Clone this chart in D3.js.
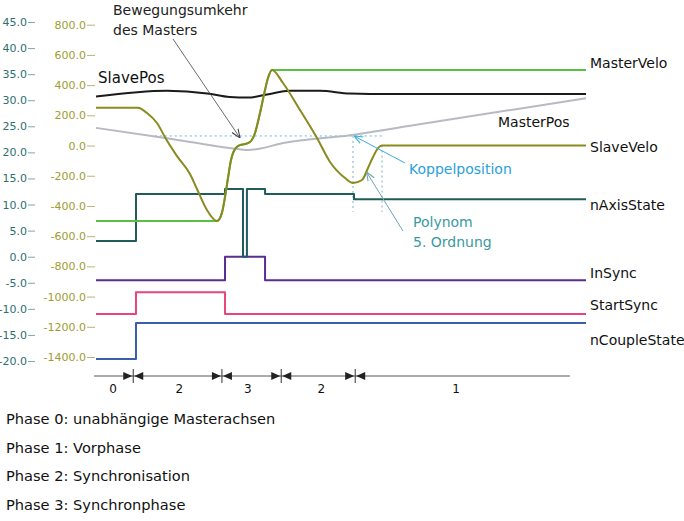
<!DOCTYPE html>
<html><head><meta charset="utf-8">
<script src="https://cdn.jsdelivr.net/npm/d3@7"></script>
<style>
body{margin:0;background:#fff}
svg{display:block}
text{font-family:"DejaVu Sans",sans-serif}
</style>
</head><body>
<svg id="c" width="684" height="521"></svg>
<script>
// ---------------- data ----------------
const leftTicks = [45,40,35,30,25,20,15,10,5,0,-5,-10,-15,-20];
const veloTicks = [800,600,400,200,0,-200,-400,-600,-800,-1000,-1200,-1400];

// [time, value]  (velocities on the olive axis, others on the teal axis)
const masterVelo = [[0,-500],[24.69,-500],[25.71,-444],[26.33,-341],[26.94,-215],[27.55,-96],[28.37,-23],[29.39,3],[30.41,10],[31.43,23],[32.45,83],[33.47,215],[34.49,367],[35.10,447],[35.92,500],[100,500]];
const slaveVelo = [[0,250],[8.57,250],[10.41,215],[12.45,149],[14.29,43],[16.53,-70],[19.18,-189],[20.61,-288],[22.65,-427],[24.69,-500],[25.71,-444],[26.33,-341],[26.94,-215],[27.55,-96],[28.37,-23],[29.39,3],[30.41,10],[31.43,23],[32.45,83],[33.47,215],[34.49,367],[35.10,447],[35.92,500],[38.16,414],[41.63,235],[45.10,50],[47.76,-109],[50.82,-215],[52.45,-248],[54.29,-228],[55.51,-149],[56.53,-76],[57.55,-17],[58.37,0],[100,0]];
const slavePos = [[0,30.7],[14.5,31.8],[22.7,31.3],[27.3,30.6],[31,30.5],[34.9,31.1],[39.6,31.8],[45.7,31.8],[51.8,31.3],[60,31.2],[100,31.2]];
const masterPos = [[0,24.7],[12.4,23.0],[19.2,22.0],[29,20.65],[31,20.45],[33,20.65],[38.2,21.8],[51.8,23.3],[64.1,25.1],[100,30.4]];
const nAxisState = [[0,3],[8.16,12],[26.33,13],[30.0,0],[30.8,13],[34.5,12],[52.65,11],[100,11]];
const inSync = [[0,-4.5],[26.33,0],[34.5,-4.5],[100,-4.5]];
const startSync = [[0,-11],[8.16,-6.8],[26.33,-11],[100,-11]];
const nCoupleState = [[0,-19.6],[8.16,-12.7],[100,-12.7]];

const phaseBounds = [7.6, 25.7, 37.8, 52.9];
const phaseLine = [-0.4, 96.7];
const phaseLabels = ["0","2","3","2","1"];
const phaseLabelT = [3.5, 17, 31, 46, 73.5];
const phaseTexts = ["Phase 0: unabhängige Masterachsen","Phase 1: Vorphase","Phase 2: Synchronisation","Phase 3: Synchronphase"];

const koppelPos = 23.15;           // master position at coupling
const koppelT = [12.0, 58.6];      // extent of horizontal guide
const polyT = [52.45, 58.37];      // polynomial start / end

// ---------------- scales ----------------
const svg = d3.select("#c");
const x = d3.scaleLinear().domain([0,100]).range([96,586]);
const yL = d3.scaleLinear().domain([-20,45]).range([361,22]);
const yV = d3.scaleLinear().domain([-1400,800]).range([357,24.7]);

// axes
const axL = svg.append("g").attr("transform","translate(35,0)")
  .call(d3.axisLeft(yL).tickValues(leftTicks).tickFormat(d=>d.toFixed(1)).tickSize(7).tickPadding(1));
axL.select(".domain").remove();
axL.selectAll("line").attr("stroke","#7fa8a8");
axL.selectAll("text").attr("fill","#2e7070").style("font-size","11px").style("font-family","'DejaVu Sans',sans-serif");

const axV = svg.append("g").attr("transform","translate(95,0)")
  .call(d3.axisLeft(yV).tickValues(veloTicks).tickFormat(d=>d.toFixed(1)).tickSize(8).tickPadding(1));
axV.select(".domain").remove();
axV.selectAll("line").attr("stroke","#b8b67a");
axV.selectAll("text").attr("fill","#a09c30").style("font-size","11px").style("font-family","'DejaVu Sans',sans-serif");

// line generators
const curveL = d3.line().x(d=>x(d[0])).y(d=>yL(d[1])).curve(d3.curveMonotoneX);
const curveV = d3.line().x(d=>x(d[0])).y(d=>yV(d[1])).curve(d3.curveMonotoneX);
const stepL = d3.line().x(d=>x(d[0])).y(d=>yL(d[1])).curve(d3.curveStepAfter);

function path(gen, data, color, w){
  svg.append("path").datum(data).attr("d",gen).attr("fill","none")
    .attr("stroke",color).attr("stroke-width",w).attr("stroke-linejoin","round");
}

// Koppel guides
const guide = svg.append("g").attr("stroke","#5cb8e8").attr("stroke-width",1).attr("stroke-dasharray","2,3");
guide.append("line").attr("x1",x(koppelT[0])).attr("x2",x(koppelT[1])).attr("y1",yL(koppelPos)).attr("y2",yL(koppelPos));
guide.append("line").attr("x1",x(polyT[0])).attr("x2",x(polyT[0])).attr("y1",yL(koppelPos)).attr("y2",yL(8.6)).attr("stroke","#7ab0c8");
guide.append("line").attr("x1",x(polyT[1])).attr("x2",x(polyT[1])).attr("y1",yV(0)).attr("y2",yL(8.6)).attr("stroke","#7ab0c8");

path(curveL, masterPos, "#b9b9c2", 2);
path(curveL, slavePos, "#1a1a1a", 2);
path(stepL, nCoupleState, "#3b5ea8", 2);
path(stepL, startSync, "#e8457e", 2);
path(stepL, inSync, "#5a2d91", 2);
path(stepL, nAxisState, "#1f5d5a", 2);
path(curveV, masterVelo, "#5cbf45", 2);
path(curveV, slaveVelo, "#8a8a1e", 2);

// series labels
const lab = svg.append("g").style("font-size","14px").attr("fill","#111");
lab.append("text").attr("x",590).attr("y",yV(500)-2).text("MasterVelo");
lab.append("text").attr("x",590).attr("y",yV(0)+6).text("SlaveVelo");
lab.append("text").attr("x",590).attr("y",yL(11)+11).text("nAxisState");
lab.append("text").attr("x",590).attr("y",yL(-4.5)-2).text("InSync");
lab.append("text").attr("x",590).attr("y",yL(-11)-4).text("StartSync");
lab.append("text").attr("x",590).attr("y",yL(-12.7)+22).text("nCoupleState");
lab.append("text").attr("x",498).attr("y",127).text("MasterPos");
lab.append("text").attr("x",98).attr("y",83).style("font-size","15px").text("SlavePos");

// markers
const defs = svg.append("defs");
function mk(id,color){
  defs.append("marker").attr("id",id).attr("viewBox","0 0 10 10").attr("refX",10).attr("refY",5)
    .attr("markerWidth",9).attr("markerHeight",9).attr("orient","auto-start-reverse").attr("markerUnits","userSpaceOnUse")
    .append("path").attr("d","M0,1 L10,5 L0,9").attr("fill","none").attr("stroke",color).attr("stroke-width",1.2);
}
mk("aG","#444"); mk("aB","#3aaee0"); mk("aT","#6aa8b0");

// annotations
const ann = svg.append("g").style("font-size","14px");
ann.append("text").attr("x",113).attr("y",15).attr("fill","#222").text("Bewegungsumkehr");
ann.append("text").attr("x",113).attr("y",35).attr("fill","#222").text("des Masters");
ann.append("line").attr("x1",173).attr("y1",39).attr("x2",x(29.4)).attr("y2",yV(50)).attr("stroke","#444").attr("stroke-width",0.8).attr("marker-end","url(#aG)");

ann.append("text").attr("x",409).attr("y",174).attr("fill","#2aa0dc").text("Koppelposition");
ann.append("line").attr("x1",405).attr("y1",163).attr("x2",x(polyT[0])+1).attr("y2",yL(koppelPos)).attr("stroke","#3aaee0").attr("stroke-width",1).attr("marker-end","url(#aB)");

ann.append("text").attr("x",413).attr("y",227).attr("fill","#3a9aa0").text("Polynom");
ann.append("text").attr("x",413).attr("y",247).attr("fill","#3a9aa0").text("5. Ordnung");
ann.append("line").attr("x1",403).attr("y1",231).attr("x2",x(55.2)).attr("y2",yV(-175)).attr("stroke","#6aa8b0").attr("stroke-width",1).attr("marker-end","url(#aT)");

// phase timeline
const ty = 376;
const tl = svg.append("g");
tl.append("line").attr("x1",x(phaseLine[0])).attr("x2",x(phaseLine[1])).attr("y1",ty).attr("y2",ty).attr("stroke","#555").attr("stroke-width",1);
phaseBounds.forEach(b=>{
  const bx = x(b);
  tl.append("line").attr("x1",bx).attr("x2",bx).attr("y1",ty-7).attr("y2",ty+7).attr("stroke","#333").attr("stroke-width",1);
  tl.append("path").attr("d",`M${bx-10},${ty-4} L${bx-1},${ty} L${bx-10},${ty+4} Z`).attr("fill","#222");
  tl.append("path").attr("d",`M${bx+10},${ty-4} L${bx+1},${ty} L${bx+10},${ty+4} Z`).attr("fill","#222");
});
tl.selectAll("text.pl").data(phaseLabels).join("text").attr("class","pl")
  .attr("x",(d,i)=>x(phaseLabelT[i])).attr("y",393).attr("text-anchor","middle")
  .style("font-size","12px").attr("fill","#111").text(d=>d);

// phase descriptions
svg.selectAll("text.pt").data(phaseTexts).join("text").attr("class","pt")
  .attr("x",6).attr("y",(d,i)=>424+i*28.7).style("font-size","14.6px").attr("fill","#111").text(d=>d);
</script>
</body></html>
